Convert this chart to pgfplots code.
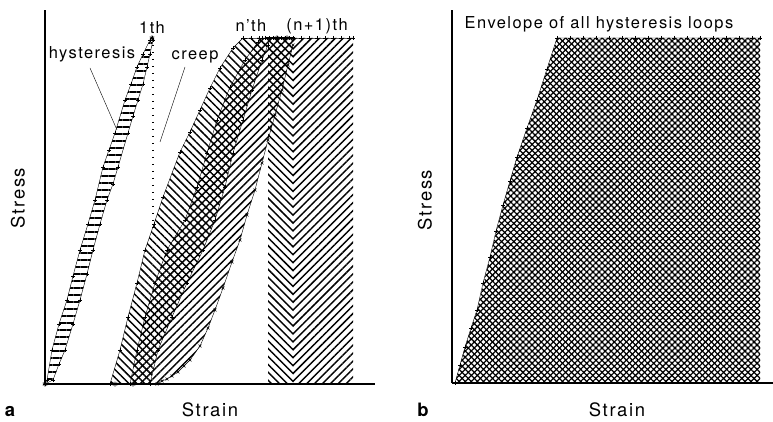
\documentclass[border=0pt]{standalone}
\usepackage{fontspec}
\setmainfont{TeX Gyre Heros}[LetterSpace=9]
\usepackage{pgfplots}
\pgfplotsset{compat=1.18}
\usetikzlibrary{patterns.meta}

\pgfplotsset{
  loopax/.style={scale only axis, anchor=south west,
    axis x line*=bottom, axis y line*=left,
    axis line style={-, line width=1.6bp},
    xtick=\empty, ytick=\empty, clip=false},
  edge/.style={black, line width=0.4bp, mark=+, mark size=2bp,
    mark options={line width=0.5bp}},
}
\newcommand\lblfont{\fontsize{16.5}{18}\selectfont}
\newcommand\bigfont{\fontsize{18.5}{20}\selectfont}

\begin{document}
\begin{tikzpicture}[x=1bp,y=1bp]
\useasboundingbox (0,0) rectangle (773,421);

% ---- panel a
\begin{axis}[loopax, at={(45bp,37bp)}, width=330bp, height=374bp,
  xmin=0, xmax=330, ymin=0, ymax=374]
% hysteresis loop, 1th cycle
\addplot[draw=none, pattern={Lines[angle=0,distance=7bp,line width=1.3bp]}] coordinates {
 (0,0)(2,4)(7,34)(14,60)(22,84)(35,134)(50,184)(58,217)(70,251)(80,284)(92,317)(105,344)(107,346)
 (108,344)(102,317)(93,284)(83,251)(73,217)(62,184)(48,134)(42,110)(35,84)(20,34)(8,4)};
\addplot[edge] coordinates {(0,0)(2,4)(7,34)(14,60)(22,84)(28,108)(35,134)(43,160)(50,184)(58,217)(64,234)(70,251)(80,284)(86,300)(92,317)(98,330)(105,344)(107,346)};
\addplot[edge] coordinates {(0,0)(8,4)(14,20)(20,34)(28,60)(35,84)(42,110)(48,134)(55,160)(62,184)(68,200)(73,217)(83,251)(88,268)(93,284)(98,300)(102,317)(105,330)(108,344)(107,346)};

% n'th loop plus creep strip (\\\)
\addplot[draw=none, pattern={Lines[angle=-45,distance=5.6bp,line width=1.45bp]}] coordinates {
 (65,0)(75,34)(83,67)(92,101)(100,134)(118,187)(135,232)(155,274)(175,316)(188,336)(198,346)
 (248,346)(248,0)(223,0)(223,339)(217,324)(207,294)(198,264)(188,231)(180,197)(170,164)
 (158,134)(142,101)(127,67)(113,34)(105,0)};
% (n+1)th loop plus creep strip (///)
\addplot[draw=none, pattern={Lines[angle=45,distance=5.6bp,line width=1.45bp]}] coordinates {
 (85,0)(92,34)(100,67)(110,101)(122,134)(140,164)(152,197)(162,231)(172,264)(185,297)(200,324)(213,342)(217,346)
 (308,346)(308,0)(248,0)(248,339)(243,319)(237,294)(230,269)(223,244)(217,221)(210,194)(202,169)
 (195,144)(187,122)(178,96)(170,74)(163,56)(155,38)(145,24)(133,12)(122,5)(112,0)};

\addplot[edge] coordinates {(65,0)(75,34)(83,67)(92,101)(100,134)(109,160)(118,187)(135,232)(145,252)(155,274)(165,296)(175,316)(188,336)(198,346)};
\addplot[edge] coordinates {(105,0)(113,34)(127,67)(142,101)(158,134)(170,164)(180,197)(188,231)(198,264)(207,294)(217,324)(223,339)};
\addplot[edge] coordinates {(85,0)(92,34)(100,67)(110,101)(122,134)(140,164)(152,197)(162,231)(172,264)(185,297)(200,324)(213,342)(217,346)};
\addplot[edge, mark=x] coordinates {(112,0)(117,3)(122,5)(127,8)(133,12)(139,18)(145,24)(155,38)(163,56)(170,74)(178,96)(187,122)(195,144)(202,169)(210,194)(217,221)(223,244)(230,269)(237,294)(243,319)(248,339)};
\addplot[edge] coordinates {(198,346)(206,346)(214,346)(220,346)(224,346)(228,346)(232,346)(236,346)(240,346)(244,346)(248,346)(256,346)(264,346)(272,346)(280,346)(288,346)(296,346)(304,346)(308,346)};
\addplot[black, line width=1.6bp] coordinates {(220,346)(250,346)};
\addplot[only marks, mark=asterisk, mark size=2.5bp, line width=0.8bp] coordinates {(0,0)(70,0)(88,0)(107,346)(232,346)(242,346)};

% creep
\draw[line width=1.5bp, dash pattern=on 1.2bp off 5.8bp] (axis cs:108,339) -- (axis cs:108,156);
\draw[line width=0.4bp] (axis cs:45,316) -- (axis cs:72,254);
\draw[line width=0.4bp] (axis cs:140,317) -- (axis cs:115,242);

\node[font=\lblfont, fill=white, inner sep=1bp] at (axis cs:47,330) {hysteresis};
\node[font=\lblfont, fill=white, inner sep=1bp] at (axis cs:150,327) {creep};
\node[font=\lblfont] at (axis cs:107,356) {1th};
\node[font=\lblfont] at (axis cs:206,358) {n'th};
\node[font=\lblfont] at (axis cs:272,358) {(n+1)th};
\end{axis}

% ---- panel b
\begin{axis}[loopax, at={(452bp,38bp)}, width=321bp, height=373bp,
  xmin=0, xmax=321, ymin=0, ymax=373]
\addplot[draw=none, pattern={Lines[angle=45,distance=4.3bp,line width=1.25bp]}] coordinates {
 (3,0)(13,36)(25,73)(38,126)(51,178)(65,226)(85,283)(105,345)(308,345)(308,0)};
\addplot[draw=none, pattern={Lines[angle=-45,distance=4.3bp,line width=1.25bp]}] coordinates {
 (3,0)(13,36)(25,73)(38,126)(51,178)(65,226)(85,283)(105,345)(308,345)(308,0)};
\addplot[edge] coordinates {(3,0)(8,18)(13,36)(19,55)(25,73)(31,100)(38,126)(44,152)(51,178)(58,202)(65,226)(75,255)(85,283)(95,314)(105,345)
 (118,345)(131,345)(144,345)(157,345)(170,345)(183,345)(196,345)(209,345)(222,345)(235,345)(248,345)(261,345)(274,345)(287,345)(300,345)(308,345)};
\node[font=\lblfont] at (axis cs:147,359) {Envelope of all hysteresis loops};
\end{axis}

% labels
\node[font=\bigfont, rotate=90] at (18,223) {Stress};
\node[font=\bigfont, anchor=base] at (210,5) {Strain};
\node[font=\bigfont\bfseries, anchor=base] at (10,5) {a};
\node[font=\bigfont, rotate=90] at (425,221) {Stress};
\node[font=\bigfont, anchor=base] at (617,5) {Strain};
\node[font=\bigfont\bfseries, anchor=base] at (423,5) {b};
\end{tikzpicture}
\end{document}
